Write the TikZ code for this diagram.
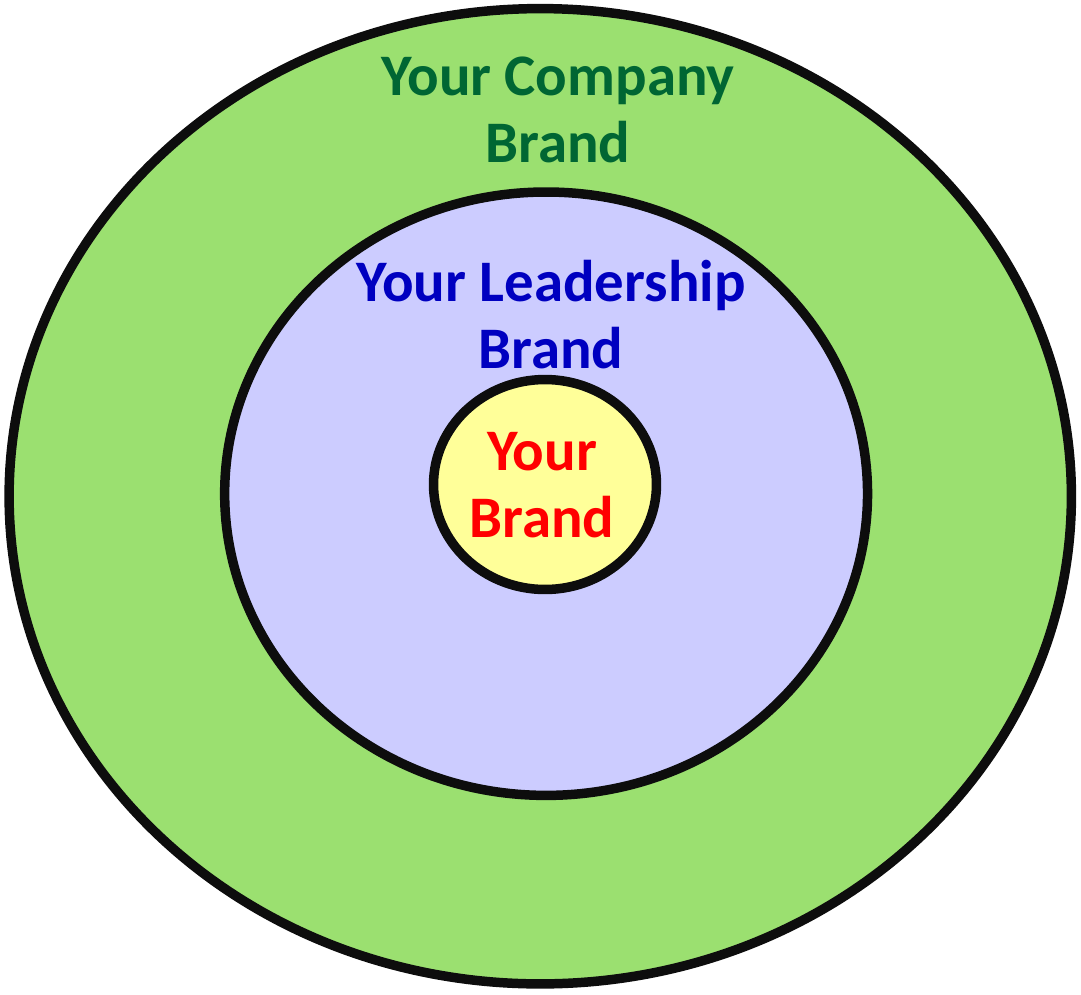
\documentclass[tikz,border=0pt]{standalone}
\usepackage{fontspec}
\setmainfont{Carlito}
\usetikzlibrary{shapes,positioning}
\definecolor{brgreen}{RGB}{155,224,112}
\definecolor{brlavender}{RGB}{204,204,255}
\definecolor{bryellow}{RGB}{255,255,153}
\definecolor{brline}{RGB}{13,13,13}
\definecolor{brdarkgreen}{RGB}{0,102,51}
\definecolor{brblue}{RGB}{0,0,192}
\definecolor{brred}{RGB}{255,0,0}
\tikzstyle{ring} = [ellipse, draw=brline, line width=5.4pt, inner sep=0pt]
\tikzstyle{brandtext} = [font=\bfseries\fontsize{33.5}{38}\selectfont, align=center, inner sep=0pt]

\begin{document}
\begin{tikzpicture}[x=0.02cm, y=-0.02cm]
\useasboundingbox (0,0) rectangle (1081,994);
% Rings
\node[ring, fill=brgreen, minimum width=21.25cm, minimum height=19.51cm] (company) at (540.25,496.25) {};
\node[ring, fill=brlavender, minimum width=12.86cm, minimum height=12.07cm] (leadership) at (546.1,493.7) {};
\node[ring, fill=bryellow, minimum width=4.46cm, minimum height=4.2cm] (self) at (545,484.5) {};
% Texts
\node[brandtext, text=brdarkgreen, anchor=base] (companytext) at (558,162) {Your Company\\Brand};
\node[brandtext, text=brblue, anchor=base] (leadershiptext) at (551,368) {Your Leadership\\Brand};
\node[brandtext, text=brred, anchor=base] (selftext) at (542,537) {Your\\Brand};
\end{tikzpicture}
\end{document}
